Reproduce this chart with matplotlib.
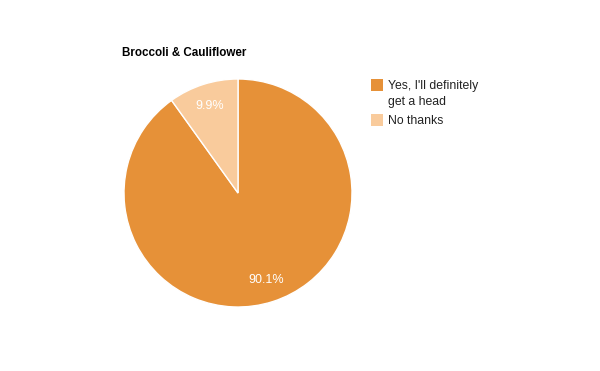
import matplotlib
matplotlib.use('Agg')
from matplotlib import pyplot as plt
from matplotlib.patches import Rectangle

plt.rcParams['font.family'] = ['Liberation Sans', 'DejaVu Sans']

title = 'Broccoli & Cauliflower'
labels = ["Yes, I'll definitely\nget a head", 'No thanks']
values = [90.1, 9.9]
colors = ['#E69138', '#F9CB9C']

W, H = 600, 371
fig = plt.figure(figsize=(W / 100, H / 100), dpi=100)

# pie axes: centre (238,193), radius 114 px
cx, cy, r = 238, 193, 114
ax = fig.add_axes([(cx - r) / W, (H - cy - r) / H, 2 * r / W, 2 * r / H])
wedges, _, autotexts = ax.pie(values, colors=colors, startangle=90, counterclock=False,
                              autopct='%.1f%%', pctdistance=0.8, radius=1,
                              wedgeprops=dict(edgecolor='white', linewidth=1))
for t in autotexts:
    t.set_color('white')
    t.set_fontsize(9)
ax.set_xlim(-1, 1)
ax.set_ylim(-1, 1)
ax.set_aspect('equal')
ax.axis('off')

fig.text(122 / W, 1 - 53 / H, title, fontsize=8.4, fontweight='bold', va='center', ha='left')

# legend
rows = [85, 120]
for lab, col, y in zip(labels, colors, rows):
    fig.patches.append(Rectangle((371 / W, 1 - (y + 6) / H), 12 / W, 12 / H,
                                 transform=fig.transFigure, facecolor=col, edgecolor='none'))
    fig.text(388 / W, 1 - (y - 5) / H, lab, fontsize=8.8, va='top', ha='left',
             color='#222222', linespacing=1.5)

fig.savefig('out.png', dpi=100, facecolor='white')
